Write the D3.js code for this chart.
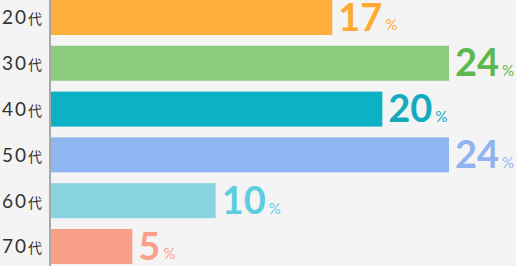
<!DOCTYPE html>
<html>
<head>
<meta charset="utf-8">
<script src="https://cdn.jsdelivr.net/npm/d3@7"></script>
<style>
  html, body { margin: 0; padding: 0; background: #f4f4f4; }
  svg { display: block; }
</style>
</head>
<body>
<script>
/* Data */
var ages = ["20", "30", "40", "50", "60", "70"],
	values = [17, 24, 20, 24, 10, 5],
	barColors = ["#ffb03c", "#8bcb7d", "#0bb1c4", "#8fb6f0", "#88d3e0", "#f9a088"],
	textColors = ["#ffaa33", "#5cb84f", "#14abbe", "#8fb4ef", "#5ecde0", "#f9a088"];

/* Display setup */
var size = {width: 516, height: 266},
	svg = d3.select("body").append("svg")
		.attr("width", size.width)
		.attr("height", size.height);

var x = d3.scaleLinear().domain([0, 24]).range([49, 449]),
	y = d3.scaleBand().domain(ages).range([0, 264]).paddingInner(0.236).paddingOuter(0);

svg.append("rect")
	.attr("width", size.width)
	.attr("height", size.height)
	.style("fill", "#f4f4f4");

var row = svg.selectAll("g.row")
	.data(ages)
	.enter().append("g")
		.attr("class", "row")
		.attr("transform", function(d) { return "translate(0," + y(d) + ")"; });

row.append("rect")
	.attr("x", x(0))
	.attr("width", function(d, i) { return x(values[i]) - x(0); })
	.attr("height", y.bandwidth())
	.style("fill", function(d, i) { return barColors[i]; });

// value labels
var val = row.append("text")
	.attr("x", function(d, i) { return x(values[i]) + 6; })
	.attr("y", y.bandwidth() / 2 + 13)
	.style("font-family", "Lato, sans-serif")
	.style("font-weight", "bold")
	.style("fill", function(d, i) { return textColors[i]; });

val.append("tspan")
	.style("font-size", "38px")
	.text(function(d, i) { return values[i]; });

val.append("tspan")
	.attr("dx", 3)
	.style("font-size", "15px")
	.style("font-weight", "normal")
	.text("%");

// age labels
var lab = row.append("text")
	.attr("x", 42)
	.attr("y", y.bandwidth() / 2 + 7)
	.attr("text-anchor", "end")
	.style("fill", "#333");

lab.append("tspan")
	.style("font-family", "Lato, sans-serif")
	.style("font-size", "19px")
	.style("letter-spacing", "2px")
	.text(function(d) { return d; });

lab.append("tspan")
	.style("font-family", "'Noto Sans CJK JP', sans-serif")
	.style("font-size", "14px")
	.text("代");

// axis line
svg.append("line")
	.attr("x1", 50).attr("x2", 50)
	.attr("y1", 0).attr("y2", size.height)
	.style("stroke", "#a8a8a8")
	.style("stroke-width", 2);
</script>
</body>
</html>
